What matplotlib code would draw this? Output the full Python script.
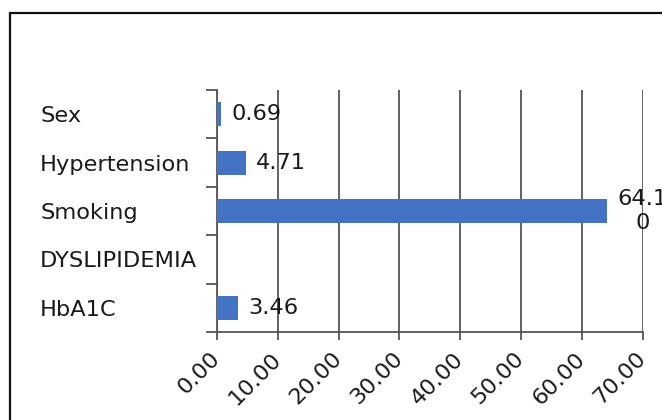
import numpy as np
import matplotlib
matplotlib.use("Agg")
import matplotlib.pyplot as plt
from matplotlib.patches import Rectangle

categories = ["Sex", "Hypertension", "Smoking", "DYSLIPIDEMIA", "HbA1C"]
values = [0.69, 4.71, 64.10, np.nan, 3.46]
value_labels = ["0.69", "4.71", "64.1\n0", "", "3.46"]
x_ticks = [0, 10, 20, 30, 40, 50, 60, 70]
x_tick_labels = ["0.00", "10.00", "20.00", "30.00", "40.00", "50.00", "60.00", "70.00"]

plt.rcParams['font.family'] = ['DejaVu Sans']
FS = 16.2
bar_color = "#4472C4"
grid_color = "#555555"

fig = plt.figure(figsize=(6.62, 4.20), dpi=100)
ax = fig.add_axes([217/662, 1-332/420, (642.7-217)/662, (332-90)/420])

y = np.arange(len(categories))
ax.barh(y, values, height=0.5, color=bar_color, zorder=3)
ax.set_ylim(len(categories)-0.5, -0.5)
ax.set_xlim(0, 70)

for yi, v, lab in zip(y, values, value_labels):
    if lab and not np.isnan(v):
        ax.annotate(lab, xy=(v, yi), xytext=(7.5, 0), textcoords="offset points",
                    ha="left", va="center", multialignment="center",
                    fontsize=FS, color="#1a1a1a", annotation_clip=False, zorder=4)

ax.set_yticks(y)
ax.set_yticklabels(categories, fontsize=FS, color="#1a1a1a", ha="left")
ax.set_yticks(np.arange(len(categories)+1)-0.5, minor=True)
ax.tick_params(axis="y", which="major", length=0, pad=127.4)
ax.tick_params(axis="y", which="minor", length=8, width=1.3, color=grid_color, direction="out")

ax.set_xticks(x_ticks)
ax.set_xticklabels(x_tick_labels, fontsize=FS, color="#1a1a1a", rotation=45,
                   ha="right", va="center", rotation_mode="anchor")
ax.tick_params(axis="x", which="major", length=6, width=1.3, color=grid_color,
               direction="out", pad=11)

ax.grid(axis="x", color=grid_color, linewidth=1.3, zorder=0)
ax.set_axisbelow(True)
for s in ["top", "right"]:
    ax.spines[s].set_visible(False)
for s in ["left", "bottom"]:
    ax.spines[s].set_color(grid_color)
    ax.spines[s].set_linewidth(1.3)

fig.patches.append(Rectangle((10/662, -0.5), 2.0, (1-13/420)+0.5,
                             transform=fig.transFigure, fill=False,
                             edgecolor="#111111", linewidth=1.6, clip_on=False))

fig.savefig("out.png", dpi=100)
